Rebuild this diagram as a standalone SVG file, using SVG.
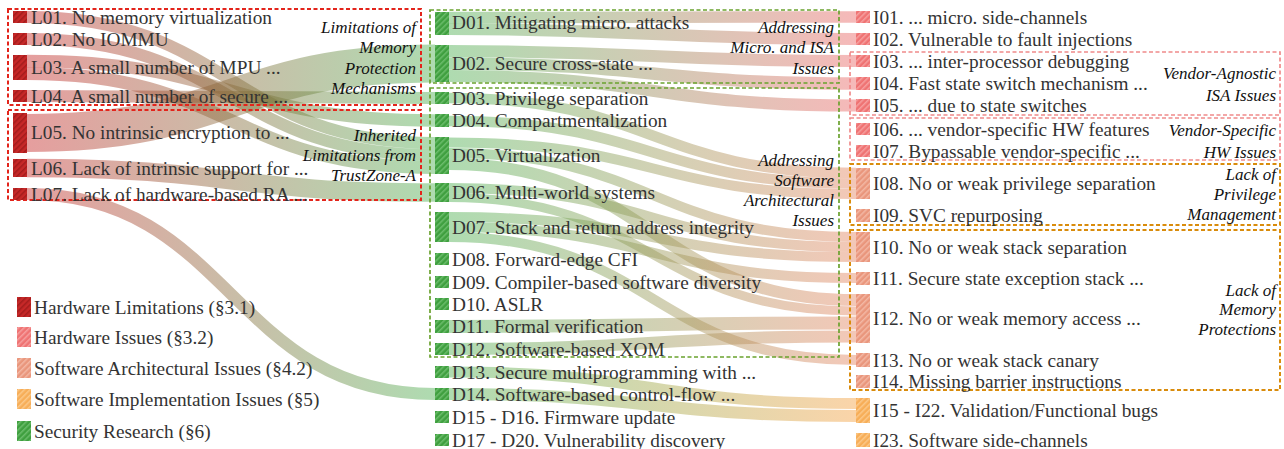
<svg xmlns="http://www.w3.org/2000/svg" width="1284" height="449" viewBox="0 0 1284 449">
<style>
.lbl{font-family:"Liberation Serif","Times New Roman",serif;font-size:19.3px;fill:#333;dominant-baseline:central}
.grp{font-family:"Liberation Serif","Times New Roman",serif;font-style:italic;font-size:17px;fill:#111;text-anchor:end;dominant-baseline:central}
.lk{fill:none;stroke-opacity:.45}
.ld{stroke:url(#gLD)}
.dp{stroke:url(#gDP)}
.ds{stroke:url(#gDS)}
.do{stroke:url(#gDO)}
.box{fill:none;stroke-width:2;stroke-dasharray:4 2.5}
.rb{stroke:#e3241b}
.gb{stroke:#6aa22e;stroke-width:1.7}
.pb{stroke:#f08a8a;stroke-width:1.7}
.ob{stroke:#d98c0c}
</style>
<defs>
<pattern id="hL" patternUnits="userSpaceOnUse" width="4" height="4" patternTransform="rotate(45)"><rect width="4" height="4" fill="#c62828"/><rect width="1.5" height="4" fill="#a31c1c"/></pattern>
<pattern id="hI" patternUnits="userSpaceOnUse" width="4" height="4" patternTransform="rotate(45)"><rect width="4" height="4" fill="#ef7373"/><rect width="1.5" height="4" fill="#f6a0a0"/></pattern>
<pattern id="hS" patternUnits="userSpaceOnUse" width="4" height="4" patternTransform="rotate(45)"><rect width="4" height="4" fill="#e9967c"/><rect width="1.5" height="4" fill="#f3b8a5"/></pattern>
<pattern id="hO" patternUnits="userSpaceOnUse" width="4" height="4" patternTransform="rotate(45)"><rect width="4" height="4" fill="#f7ae58"/><rect width="1.5" height="4" fill="#fbc98a"/></pattern>
<pattern id="hG" patternUnits="userSpaceOnUse" width="4" height="4" patternTransform="rotate(45)"><rect width="4" height="4" fill="#3f9f3f"/><rect width="1.5" height="4" fill="#6cbd6c"/></pattern>
<linearGradient id="gLD" gradientUnits="userSpaceOnUse" x1="27" y1="0" x2="435" y2="0"><stop offset="0" stop-color="#c62828"/><stop offset="1" stop-color="#4caf50"/></linearGradient>
<linearGradient id="gDP" gradientUnits="userSpaceOnUse" x1="449" y1="0" x2="856" y2="0"><stop offset="0" stop-color="#4caf50"/><stop offset="1" stop-color="#ea6464"/></linearGradient>
<linearGradient id="gDS" gradientUnits="userSpaceOnUse" x1="449" y1="0" x2="856" y2="0"><stop offset="0" stop-color="#4caf50"/><stop offset="1" stop-color="#e48460"/></linearGradient>
<linearGradient id="gDO" gradientUnits="userSpaceOnUse" x1="449" y1="0" x2="856" y2="0"><stop offset="0" stop-color="#4caf50"/><stop offset="1" stop-color="#f5a040"/></linearGradient>
</defs>
<rect width="1284" height="449" fill="#fff"/>
<g id="connectors">
<path class="lk ld" stroke-width="12" d="M27,17 C231,17 231,143 435,143"/>
<path class="lk ld" stroke-width="12" d="M27,39 C231,39 231,155 435,155"/>
<path class="lk ld" stroke-width="12.5" d="M27,61 C231,61 231,120.5 435,120.5"/>
<path class="lk ld" stroke-width="13" d="M27,73.5 C231,73.5 231,167.5 435,167.5"/>
<path class="lk ld" stroke-width="12" d="M27,96 C231,96 231,98 435,98"/>
<path class="lk ld" stroke-width="38" d="M27,133 C231,133 231,63.5 435,63.5"/>
<path class="lk ld" stroke-width="18.5" d="M27,168 C231,168 231,192.5 435,192.5"/>
<path class="lk ld" stroke-width="12" d="M27,194 C231,194 231,394 435,394"/>
<path class="lk dp" stroke-width="11.5" d="M449,17.5 C652.5,17.5 652.5,17 856,17"/>
<path class="lk dp" stroke-width="12" d="M449,29 C652.5,29 652.5,39 856,39"/>
<path class="lk dp" stroke-width="12" d="M449,51 C652.5,51 652.5,61 856,61"/>
<path class="lk dp" stroke-width="12.5" d="M449,63.5 C652.5,63.5 652.5,83.5 856,83.5"/>
<path class="lk dp" stroke-width="12" d="M449,76 C652.5,76 652.5,105.5 856,105.5"/>
<path class="lk ds" stroke-width="10.5" d="M449,98 C652.5,98 652.5,173 856,173"/>
<path class="lk ds" stroke-width="10.5" d="M449,121 C652.5,121 652.5,183.5 856,183.5"/>
<path class="lk ds" stroke-width="10" d="M449,142.5 C652.5,142.5 652.5,194 856,194"/>
<path class="lk ds" stroke-width="10" d="M449,153 C652.5,153 652.5,237 856,237"/>
<path class="lk ds" stroke-width="12" d="M449,164 C652.5,164 652.5,300 856,300"/>
<path class="lk ds" stroke-width="10" d="M449,188 C652.5,188 652.5,247 856,247"/>
<path class="lk ds" stroke-width="9" d="M449,197.5 C652.5,197.5 652.5,311 856,311"/>
<path class="lk ds" stroke-width="10" d="M449,217 C652.5,217 652.5,257 856,257"/>
<path class="lk ds" stroke-width="10" d="M449,227 C652.5,227 652.5,278 856,278"/>
<path class="lk ds" stroke-width="10" d="M449,237 C652.5,237 652.5,360 856,360"/>
<path class="lk ds" stroke-width="13" d="M449,326.5 C652.5,326.5 652.5,323 856,323"/>
<path class="lk ds" stroke-width="12" d="M449,349 C652.5,349 652.5,336.5 856,336.5"/>
<path class="lk do" stroke-width="11" d="M449,372 C652.5,372 652.5,403.5 856,403.5"/>
<path class="lk do" stroke-width="12" d="M449,394 C652.5,394 652.5,416 856,416"/>
</g>
<g id="boxes">
<rect class="box rb" x="8" y="9" width="413" height="96"/>
<rect class="box rb" x="8" y="110" width="413" height="90"/>
<rect class="box gb" x="430" y="10" width="409" height="73"/>
<rect class="box gb" x="430" y="88" width="409" height="269"/>
<rect class="box pb" x="850" y="52" width="430" height="63"/>
<rect class="box pb" x="850" y="118" width="430" height="42"/>
<rect class="box ob" x="850" y="164" width="430" height="61"/>
<rect class="box ob" x="850" y="230" width="430" height="160"/>
</g>
<g id="group-labels">
<text class="grp" x="416" y="27">Limitations of</text>
<text class="grp" x="416" y="47">Memory</text>
<text class="grp" x="416" y="68">Protection</text>
<text class="grp" x="416" y="88">Mechanisms</text>
<text class="grp" x="416" y="135">Inherited</text>
<text class="grp" x="416" y="155">Limitations from</text>
<text class="grp" x="416" y="175">TrustZone-A</text>
<text class="grp" x="834" y="27">Addressing</text>
<text class="grp" x="834" y="47">Micro. and ISA</text>
<text class="grp" x="834" y="68">Issues</text>
<text class="grp" x="834" y="160">Addressing</text>
<text class="grp" x="834" y="180">Software</text>
<text class="grp" x="834" y="200">Architectural</text>
<text class="grp" x="834" y="220">Issues</text>
<text class="grp" x="1276" y="73">Vendor-Agnostic</text>
<text class="grp" x="1276" y="95">ISA Issues</text>
<text class="grp" x="1276" y="130">Vendor-Specific</text>
<text class="grp" x="1276" y="152">HW Issues</text>
<text class="grp" x="1276" y="174">Lack of</text>
<text class="grp" x="1276" y="194">Privilege</text>
<text class="grp" x="1276" y="214">Management</text>
<text class="grp" x="1276" y="290">Lack of</text>
<text class="grp" x="1276" y="309">Memory</text>
<text class="grp" x="1276" y="329">Protections</text>
</g>
<g id="L01"><rect x="13" y="11" width="14" height="12" fill="url(#hL)"/><text class="lbl" x="31" y="17">L01. No memory virtualization</text></g>
<g id="L02"><rect x="13" y="33" width="14" height="12" fill="url(#hL)"/><text class="lbl" x="31" y="39">L02. No IOMMU</text></g>
<g id="L03"><rect x="13" y="55" width="14" height="25" fill="url(#hL)"/><text class="lbl" x="31" y="67.5">L03. A small number of MPU ...</text></g>
<g id="L04"><rect x="13" y="90" width="14" height="12" fill="url(#hL)"/><text class="lbl" x="31" y="96">L04. A small number of secure ...</text></g>
<g id="L05"><rect x="13" y="113" width="14" height="40" fill="url(#hL)"/><text class="lbl" x="31" y="132">L05. No intrinsic encryption to ...</text></g>
<g id="L06"><rect x="13" y="159" width="14" height="18" fill="url(#hL)"/><text class="lbl" x="31" y="168">L06. Lack of intrinsic support for ...</text></g>
<g id="L07"><rect x="13" y="188" width="14" height="12" fill="url(#hL)"/><text class="lbl" x="31" y="194">L07. Lack of hardware-based RA ...</text></g>
<g id="D01"><rect x="435" y="12" width="14" height="23" fill="url(#hG)"/><text class="lbl" x="452" y="22">D01. Mitigating micro. attacks</text></g>
<g id="D02"><rect x="435" y="45" width="14" height="37" fill="url(#hG)"/><text class="lbl" x="452" y="63.5">D02. Secure cross-state ...</text></g>
<g id="D03"><rect x="435" y="92" width="14" height="12" fill="url(#hG)"/><text class="lbl" x="452" y="98">D03. Privilege separation</text></g>
<g id="D04"><rect x="435" y="114" width="14" height="13" fill="url(#hG)"/><text class="lbl" x="452" y="120.5">D04. Compartmentalization</text></g>
<g id="D05"><rect x="435" y="137" width="14" height="37" fill="url(#hG)"/><text class="lbl" x="452" y="155.5">D05. Virtualization</text></g>
<g id="D06"><rect x="435" y="183" width="14" height="19" fill="url(#hG)"/><text class="lbl" x="452" y="192.5">D06. Multi-world systems</text></g>
<g id="D07"><rect x="435" y="212" width="14" height="30" fill="url(#hG)"/><text class="lbl" x="452" y="227">D07. Stack and return address integrity</text></g>
<g id="D08"><rect x="435" y="253" width="14" height="12" fill="url(#hG)"/><text class="lbl" x="452" y="259">D08. Forward-edge CFI</text></g>
<g id="D09"><rect x="435" y="276" width="14" height="12" fill="url(#hG)"/><text class="lbl" x="452" y="282">D09. Compiler-based software diversity</text></g>
<g id="D10"><rect x="435" y="298" width="14" height="12" fill="url(#hG)"/><text class="lbl" x="452" y="304">D10. ASLR</text></g>
<g id="D11"><rect x="435" y="320" width="14" height="13" fill="url(#hG)"/><text class="lbl" x="452" y="326.5">D11. Formal verification</text></g>
<g id="D12"><rect x="435" y="343" width="14" height="12" fill="url(#hG)"/><text class="lbl" x="452" y="349">D12. Software-based XOM</text></g>
<g id="D13"><rect x="435" y="366" width="14" height="12" fill="url(#hG)"/><text class="lbl" x="452" y="372">D13. Secure multiprogramming with ...</text></g>
<g id="D14"><rect x="435" y="388" width="14" height="12" fill="url(#hG)"/><text class="lbl" x="452" y="394">D14. Software-based control-flow ...</text></g>
<g id="D15-D16"><rect x="435" y="411" width="14" height="12" fill="url(#hG)"/><text class="lbl" x="452" y="417">D15 - D16. Firmware update</text></g>
<g id="D17-D20"><rect x="435" y="434" width="14" height="12" fill="url(#hG)"/><text class="lbl" x="452" y="440">D17 - D20. Vulnerability discovery</text></g>
<g id="I01"><rect x="856" y="11" width="14" height="12" fill="url(#hI)"/><text class="lbl" x="873" y="17">I01. ... micro. side-channels</text></g>
<g id="I02"><rect x="856" y="33" width="14" height="12" fill="url(#hI)"/><text class="lbl" x="873" y="39">I02. Vulnerable to fault injections</text></g>
<g id="I03"><rect x="856" y="55" width="14" height="12" fill="url(#hI)"/><text class="lbl" x="873" y="61">I03. ... inter-processor debugging</text></g>
<g id="I04"><rect x="856" y="77" width="14" height="13" fill="url(#hI)"/><text class="lbl" x="873" y="83.5">I04. Fast state switch mechanism ...</text></g>
<g id="I05"><rect x="856" y="99" width="14" height="13" fill="url(#hI)"/><text class="lbl" x="873" y="105.5">I05. ... due to state switches</text></g>
<g id="I06"><rect x="856" y="123" width="14" height="12" fill="url(#hI)"/><text class="lbl" x="873" y="129">I06. ... vendor-specific HW features</text></g>
<g id="I07"><rect x="856" y="145" width="14" height="12" fill="url(#hI)"/><text class="lbl" x="873" y="151">I07. Bypassable vendor-specific ...</text></g>
<g id="I08"><rect x="856" y="168" width="14" height="31" fill="url(#hS)"/><text class="lbl" x="873" y="183.5">I08. No or weak privilege separation</text></g>
<g id="I09"><rect x="856" y="209" width="14" height="13" fill="url(#hS)"/><text class="lbl" x="873" y="215.5">I09. SVC repurposing</text></g>
<g id="I10"><rect x="856" y="232" width="14" height="30" fill="url(#hS)"/><text class="lbl" x="873" y="247">I10. No or weak stack separation</text></g>
<g id="I11"><rect x="856" y="272" width="14" height="13" fill="url(#hS)"/><text class="lbl" x="873" y="278.5">I11. Secure state exception stack ...</text></g>
<g id="I12"><rect x="856" y="294" width="14" height="49" fill="url(#hS)"/><text class="lbl" x="873" y="318.5">I12. No or weak memory access ...</text></g>
<g id="I13"><rect x="856" y="353" width="14" height="14" fill="url(#hS)"/><text class="lbl" x="873" y="360">I13. No or weak stack canary</text></g>
<g id="I14"><rect x="856" y="375" width="14" height="13" fill="url(#hS)"/><text class="lbl" x="873" y="381.5">I14. Missing barrier instructions</text></g>
<g id="I15-I22"><rect x="856" y="398" width="14" height="25" fill="url(#hO)"/><text class="lbl" x="873" y="410.5">I15 - I22. Validation/Functional bugs</text></g>
<g id="I23"><rect x="856" y="433" width="14" height="14" fill="url(#hO)"/><text class="lbl" x="873" y="440">I23. Software side-channels</text></g>
<g id="legend">
<g id="legend-hw-limitations"><rect x="17" y="297" width="14" height="20" fill="url(#hL)"/><text class="lbl" x="34" y="307">Hardware Limitations (§3.1)</text></g>
<g id="legend-hw-issues"><rect x="17" y="327" width="14" height="20" fill="url(#hI)"/><text class="lbl" x="34" y="337">Hardware Issues (§3.2)</text></g>
<g id="legend-sw-arch"><rect x="17" y="358" width="14" height="20" fill="url(#hS)"/><text class="lbl" x="34" y="368">Software Architectural Issues (§4.2)</text></g>
<g id="legend-sw-impl"><rect x="17" y="389" width="14" height="20" fill="url(#hO)"/><text class="lbl" x="34" y="399">Software Implementation Issues (§5)</text></g>
<g id="legend-research"><rect x="17" y="421" width="14" height="20" fill="url(#hG)"/><text class="lbl" x="34" y="431">Security Research (§6)</text></g>
</g>
</svg>
